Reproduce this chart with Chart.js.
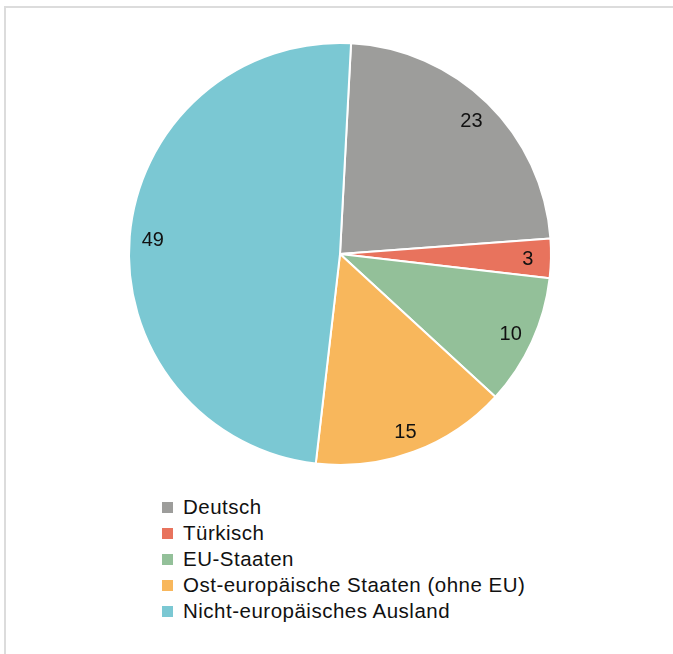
<!DOCTYPE html>
<html>
<head>
<meta charset="utf-8">
<script src="https://cdn.jsdelivr.net/npm/chart.js@4/dist/chart.umd.min.js"></script>
<style>
html,body{margin:0;padding:0;background:#fff;width:673px;height:654px;overflow:hidden;font-family:"Liberation Sans",Arial,sans-serif;}
#frame{position:absolute;left:4px;top:6px;width:700px;height:700px;border-top:2px solid #dcdcdc;border-left:2px solid #dcdcdc;}
#wrap{position:absolute;left:0;top:0;width:673px;height:470px;}
#legend{position:absolute;left:162px;top:494px;margin:0;padding:0;list-style:none;}
#legend li{height:26px;line-height:26px;font-size:20.5px;letter-spacing:0.5px;color:#111;white-space:nowrap;position:relative;padding-left:21px;}
#legend li span{position:absolute;left:0;top:8px;width:11px;height:11px;}
</style>
</head>
<body>
<div id="frame"></div>
<div id="wrap"><canvas id="c"></canvas></div>
<ul id="legend"></ul>
<script>
const categories = ["Deutsch", "Türkisch", "EU-Staaten", "Ost-europäische Staaten (ohne EU)", "Nicht-europäisches Ausland"];
const values = [23, 3, 10, 15, 49];
const colors = ["#9d9d9b", "#e8735d", "#93c099", "#f8b75c", "#7bc8d3"];

const labelPlugin = {
  id: 'sliceLabels',
  afterDatasetsDraw(chart) {
    const ctx = chart.ctx;
    const meta = chart.getDatasetMeta(0);
    ctx.save();
    ctx.font = '20px "Liberation Sans", Arial, sans-serif';
    ctx.fillStyle = '#111';
    ctx.textAlign = 'center';
    ctx.textBaseline = 'middle';
    meta.data.forEach((arc, i) => {
      const p = arc.getProps(['x','y','startAngle','endAngle','outerRadius'], true);
      const mid = (p.startAngle + p.endAngle) / 2;
      const r = p.outerRadius * 0.89;
      ctx.fillText(String(values[i]), p.x + Math.cos(mid) * r, p.y + Math.sin(mid) * r + 2);
    });
    ctx.restore();
  }
};

new Chart(document.getElementById('c'), {
  type: 'pie',
  data: {
    labels: categories,
    datasets: [{
      data: values,
      backgroundColor: colors,
      borderColor: '#ffffff',
      borderWidth: 2
    }]
  },
  options: {
    responsive: true,
    maintainAspectRatio: false,
    animation: false,
    rotation: 3,
    layout: { padding: { top: 42, left: 128, right: 121, bottom: 4 } },
    plugins: { legend: { display: false }, tooltip: { enabled: false } }
  },
  plugins: [labelPlugin]
});

const lg = document.getElementById('legend');
categories.forEach((c, i) => {
  const li = document.createElement('li');
  const sw = document.createElement('span');
  sw.style.background = colors[i];
  li.appendChild(sw);
  li.appendChild(document.createTextNode(c));
  lg.appendChild(li);
});
</script>
</body>
</html>
